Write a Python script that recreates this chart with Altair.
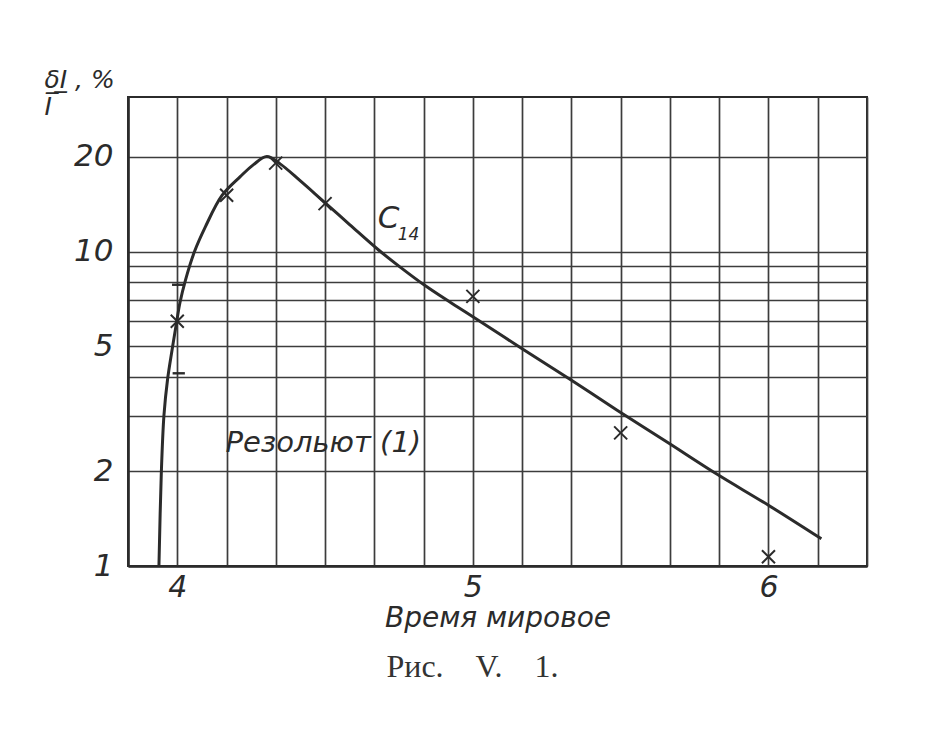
import altair as alt
import pandas as pd

# ---- data ----
CURVE_T = [3.938, 3.946, 3.955, 3.967, 3.9825, 3.998, 4.009, 4.028, 4.058, 4.095,
           4.152, 4.213, 4.258, 4.303, 4.348, 4.4155, 4.483, 4.584, 4.680, 4.753,
           4.837, 4.921, 5.000, 5.168, 5.331, 5.488, 5.662, 5.825, 6.000, 6.179]
CURVE_V = [1.0, 1.97, 3.02, 3.91, 4.87, 5.98, 6.87, 8.13, 9.98, 11.98,
           15.1, 17.3, 18.9, 20.05, 19.0, 16.8, 14.77, 12.16, 10.13, 8.94,
           7.81, 6.92, 6.20, 4.90, 3.91, 3.13, 2.46, 1.96, 1.56, 1.22]

CROSS_T = [4.0, 4.167, 4.333, 4.5, 5.0, 5.5, 6.0]
CROSS_V = [6.0, 15.1, 19.1, 14.2, 7.2, 2.65, 1.07]

DASH_T = [4.003, 4.005]
DASH_V = [7.84, 4.1]

NOTE_TEXT = ["Резольют (1)"]
NOTE_T = [4.163]
NOTE_V = [2.31]

SERIES_TEXT = ["C"]
SERIES_T = [4.678]
SERIES_V = [11.9]
SUB_TEXT = ["14"]
SUB_T = [4.746]
SUB_V = [10.9]

X_GRID_MIN = [230, 240, 250, 260, 270, 280, 290, 300, 310, 320, 330, 340, 350,
              360, 370, 380]
X_LABELS = [4, 5, 6]
Y_GRID = [1, 2, 3, 4, 5, 6, 7, 8, 9, 10, 20]
Y_LABELS = [1, 2, 5, 10, 20]

X_DOMAIN = [230 / 60, 380 / 60]
Y_DOMAIN = [1, 31]

INK = "#2b2b2b"
GRID = "#3c3c3c"
FONT = "DejaVu Sans"

curve = pd.DataFrame({"t": CURVE_T, "v": CURVE_V})
cross = pd.DataFrame({"t": CROSS_T, "v": CROSS_V})
dash = pd.DataFrame({"t": DASH_T, "v": DASH_V})
note = pd.DataFrame({"text": NOTE_TEXT, "t": NOTE_T, "v": NOTE_V})
series = pd.DataFrame({"text": SERIES_TEXT, "t": SERIES_T, "v": SERIES_V})
sub = pd.DataFrame({"text": SUB_TEXT, "t": SUB_T, "v": SUB_V})

x_grid = [m / 60 for m in X_GRID_MIN]
x_lab_cond = " || ".join(f"abs(datum.value - {v}) < 0.001" for v in X_LABELS)
y_lab_cond = " || ".join(f"datum.value == {v}" for v in Y_LABELS)

x_scale = alt.Scale(domain=X_DOMAIN, nice=False, zero=False)
y_scale = alt.Scale(type="log", domain=Y_DOMAIN, nice=False)

x_axis = alt.Axis(
    values=x_grid,
    labelExpr=f"({x_lab_cond}) ? format(round(datum.value), 'd') : ''",
    grid=True, ticks=False,
    domainColor=INK, domainWidth=2.5,
    gridColor=GRID, gridWidth=1.7, gridOpacity=1,
    labelFont=FONT, labelFontSize=30, labelFontStyle="italic", labelColor=INK,
    labelPadding=6, labelFlush=False,
    title="Время мировое", titleFont=FONT, titleFontSize=28,
    titleFontStyle="italic", titleFontWeight="normal", titleColor=INK,
    titlePadding=2,
)
y_axis = alt.Axis(
    values=Y_GRID,
    labelExpr=f"({y_lab_cond}) ? datum.label : ''",
    grid=True, ticks=False,
    domainColor=INK, domainWidth=2.5,
    gridColor=GRID, gridWidth=1.7, gridOpacity=1,
    labelFont=FONT, labelFontSize=31, labelFontStyle="italic", labelColor=INK,
    labelPadding=15, labelBaseline="middle", labelFlush=False,
    title=["δ\u0332I\u0332 , %", "I"], titleFont=FONT, titleFontSize=25,
    titleFontStyle="italic", titleFontWeight="normal", titleColor=INK,
    titleAngle=0, titleAlign="left", titleBaseline="alphabetic",
    titleX=-84, titleY=-10, titleLineHeight=27,
)

xq = alt.X("t:Q", scale=x_scale)
yq = alt.Y("v:Q", scale=y_scale)

line = alt.Chart(curve).mark_line(
    color=INK, strokeWidth=3, interpolate="catmull-rom", clip=True
).encode(x=alt.X("t:Q", scale=x_scale, axis=x_axis),
         y=alt.Y("v:Q", scale=y_scale, axis=y_axis))

crosses = alt.Chart(cross).mark_point(
    shape="M-1,-1L1,1M-1,1L1,-1", size=170, filled=False,
    color=INK, strokeWidth=2, opacity=1
).encode(x=xq, y=yq)

dashes = alt.Chart(dash).mark_point(
    shape="M-1,0L1,0", size=150, filled=False,
    color=INK, strokeWidth=2.4, opacity=1
).encode(x=xq, y=yq)

note_txt = alt.Chart(note).mark_text(
    font=FONT, fontSize=29, fontStyle="italic", color=INK,
    align="left", baseline="alphabetic"
).encode(x=xq, y=yq, text="text:N")

series_txt = alt.Chart(series).mark_text(
    font=FONT, fontSize=31, fontStyle="italic", color=INK,
    align="left", baseline="alphabetic"
).encode(x=xq, y=yq, text="text:N")

sub_txt = alt.Chart(sub).mark_text(
    font=FONT, fontSize=17, fontStyle="italic", color=INK,
    align="left", baseline="alphabetic"
).encode(x=xq, y=yq, text="text:N")

chart = alt.layer(line, crosses, dashes, note_txt, series_txt, sub_txt).properties(
    width=739, height=469,
    autosize=alt.AutoSizeParams(type="none"),
    padding={"left": 120, "top": 89, "right": 60, "bottom": 150},
    background="#ffffff",
    title=alt.TitleParams(
        "Рис.\u2003V.\u20031.", orient="bottom", font="Liberation Serif",
        fontSize=32, fontWeight="normal", color="#333333", offset=20, dx=-25,
    ),
).configure_view(stroke=INK, strokeWidth=2)

chart.save("out.html", embed_options={"renderer": "svg", "actions": False})
